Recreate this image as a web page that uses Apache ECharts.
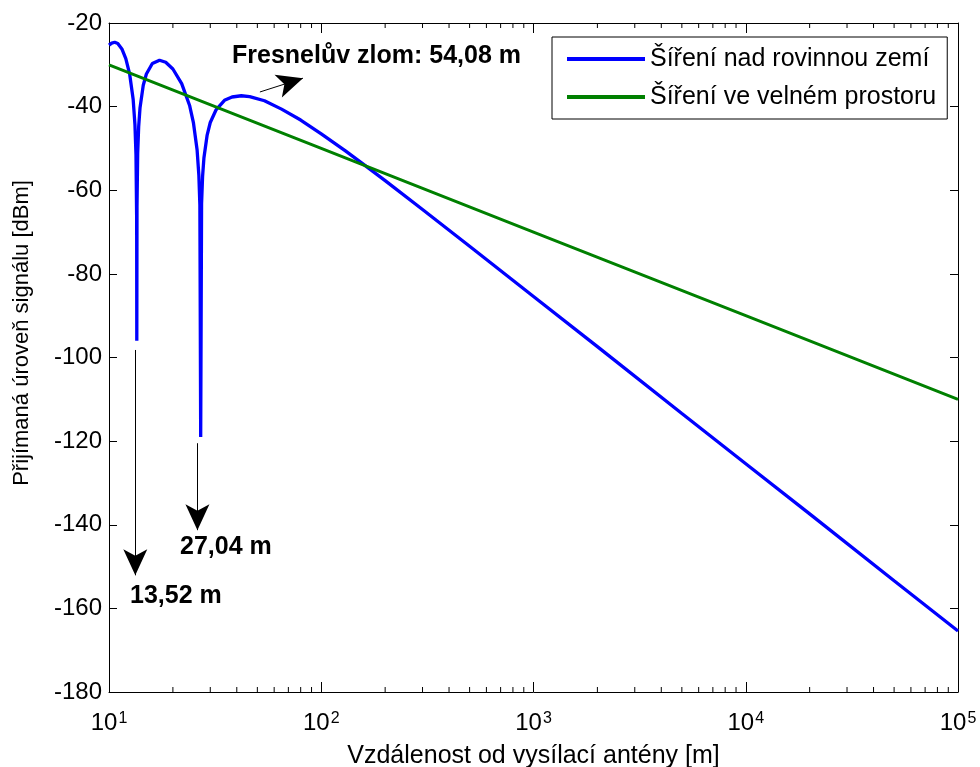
<!DOCTYPE html>
<html>
<head>
<meta charset="utf-8">
<script src="https://cdn.jsdelivr.net/npm/echarts@6/dist/echarts.min.js"></script>
<style>
  html, body { margin: 0; padding: 0; background: #fff; }
  #chart { width: 980px; height: 767px; }
</style>
</head>
<body>
<div id="chart"></div>
<script>
// vzdálenost [m] a úroveň signálu [dBm] - šíření nad rovinnou zemí
const groundDistance = [10, 10.3, 10.64, 11, 11.5, 12, 12.5, 13, 13.25, 13.4, 13.5, 13.52, 13.55, 13.65, 13.8, 14, 14.5, 15, 16, 17.3, 18.5, 20, 22, 24, 25, 26, 26.5, 26.8, 27.04, 27.3, 27.6, 28, 29, 30, 32, 35, 38, 42, 46, 54, 65, 80, 100, 130, 160, 200, 300, 500, 1000, 2000, 5000, 10000, 20000, 50000, 100000];
const groundLevel = [-25.3, -24.8, -24.6, -24.9, -26.2, -28.5, -32.1, -38.3, -44.3, -51.5, -67, -96, -64, -51.2, -44.7, -40.3, -34.9, -32.2, -29.7, -28.9, -29.4, -31.0, -34.5, -39.8, -43.9, -50.3, -56.3, -63.5, -119, -63.2, -56.7, -52.3, -46.8, -43.8, -40.7, -38.5, -37.7, -37.4, -37.6, -38.6, -40.6, -43.2, -46.5, -50.6, -54.0, -57.7, -64.6, -73.4, -85.4, -97.4, -113.4, -125.4, -137.4, -153.4, -165.4];

// šíření ve volném prostoru
const freeDistance = [10, 100, 1000, 10000, 100000];
const freeLevel = [-30, -50, -70, -90, -110];

const yTicks = [-180, -160, -140, -120, -100, -80, -60, -40, -20];
const minorTicks = [20, 30, 40, 50, 60, 70, 80, 90, 200, 300, 400, 500, 600, 700, 800, 900,
  2000, 3000, 4000, 5000, 6000, 7000, 8000, 9000, 20000, 30000, 40000, 50000, 60000, 70000, 80000, 90000];

const seriesNames = ['Šíření nad rovinnou zemí', 'Šíření ve velném prostoru'];

const FONT = 'Liberation Sans, Arial, Helvetica, sans-serif';

let chartDom = document.getElementById('chart');
let myChart = echarts.init(chartDom);

const groundData = groundDistance.map((d, i) => [d, groundLevel[i]]);
const freeData = freeDistance.map((d, i) => [d, freeLevel[i]]);

const arrowStyle = { color: '#000', width: 1, type: 'solid' };

const xCommon = {
  type: 'log',
  logBase: 10,
  min: 10,
  max: 100000,
  splitNumber: 4,
  axisLine: { show: true, onZero: false, lineStyle: { color: '#000', width: 1 } },
  axisTick: { show: true, inside: true, length: 10, lineStyle: { color: '#000', width: 1 } },
  splitLine: { show: false },
};
const yCommon = {
  type: 'value',
  min: yTicks[0],
  max: yTicks[yTicks.length - 1],
  interval: 20,
  axisLine: { show: true, onZero: false, lineStyle: { color: '#000', width: 1 } },
  axisTick: { show: true, inside: true, length: 8, lineStyle: { color: '#000', width: 1 } },
  splitLine: { show: false },
};

let option = {
  animation: false,
  backgroundColor: '#fff',
  textStyle: { fontFamily: FONT },
  grid: { left: 109, right: 22, top: 23, bottom: 75, containLabel: false, outerBoundsMode: 'none' },
  legend: {
    data: seriesNames,
    orient: 'vertical',
    left: 552,
    top: 37,
    padding: [8, 11, 8, 15],
    itemGap: 10,
    itemWidth: 78,
    itemHeight: 4,
    icon: 'rect',
    backgroundColor: '#fff',
    borderColor: '#000',
    borderWidth: 1,
    textStyle: { fontSize: 25, lineHeight: 28, color: '#000', fontFamily: FONT },
  },
  xAxis: [
    Object.assign({}, xCommon, {
      position: 'bottom',
      name: 'Vzdálenost od vysílací antény [m]',
      nameLocation: 'middle',
      nameGap: 52,
      nameTextStyle: { fontSize: 25, color: '#000', fontFamily: FONT },
      axisLabel: {
        margin: 19,
        color: '#000',
        formatter: (val) => '{b|10}{sup|' + Math.round(Math.log10(val)) + '}',
        rich: {
          b: { fontSize: 24, lineHeight: 24, verticalAlign: 'bottom', color: '#000', fontFamily: FONT },
          sup: { fontSize: 16, lineHeight: 16, padding: [0, 0, 12, 1], verticalAlign: 'top', color: '#000', fontFamily: FONT },
        },
      },
    }),
    Object.assign({}, xCommon, { position: 'top', axisLabel: { show: false } }),
  ],
  yAxis: [
    Object.assign({}, yCommon, {
      position: 'left',
      axisLabel: { fontSize: 24, margin: 7, color: '#000', fontFamily: FONT },
    }),
    Object.assign({}, yCommon, { position: 'right', axisLabel: { show: false } }),
  ],
  graphic: [
    {
      type: 'text', x: 22, y: 333, rotation: Math.PI / 2,
      style: { text: 'Přijímaná úroveň signálu [dBm]', font: '22px ' + FONT, fill: '#000', textAlign: 'center', textVerticalAlign: 'middle' },
    },
    {
      type: 'text', x: 232, y: 56,
      style: { text: 'Fresnelův zlom: 54,08 m', font: 'bold 25px ' + FONT, fill: '#000', textAlign: 'left', textVerticalAlign: 'middle' },
    },
    {
      type: 'text', x: 130, y: 596,
      style: { text: '13,52 m', font: 'bold 25px ' + FONT, fill: '#000', textAlign: 'left', textVerticalAlign: 'middle' },
    },
    {
      type: 'text', x: 180, y: 547,
      style: { text: '27,04 m', font: 'bold 25px ' + FONT, fill: '#000', textAlign: 'left', textVerticalAlign: 'middle' },
    },
  ],
  series: [
    {
      name: seriesNames[0],
      type: 'line',
      data: groundData,
      showSymbol: false,
      symbol: 'none',
      smooth: false,
      lineStyle: { color: '#0000ff', width: 3.3 },
      itemStyle: { color: '#0000ff' },
      markLine: {
        silent: true,
        symbol: ['none', 'arrow'],
        symbolSize: [18, 26],
        label: { show: false },
        lineStyle: arrowStyle,
        itemStyle: { color: '#000' },
        emphasis: { disabled: true },
        data: [
          [{ coord: [13.3, -98.2] }, { coord: [13.3, -152.1] }],
          [{ coord: [26.1, -120.5] }, { coord: [26.1, -141.3] }],
          [{ coord: [51.4, -36.5] }, { coord: [82.0, -33.2] }],
        ],
      },
    },
    {
      name: seriesNames[1],
      type: 'line',
      data: freeData,
      showSymbol: false,
      symbol: 'none',
      lineStyle: { color: '#008000', width: 3 },
      itemStyle: { color: '#008000' },
    },
    {
      // vedlejší dílky logaritmické osy (dole i nahoře)
      type: 'custom',
      silent: true,
      xAxisIndex: 0,
      yAxisIndex: 0,
      data: minorTicks.map((v) => [v, yTicks[0]]),
      renderItem: (params, api) => {
        const x = api.value(0);
        const bottom = api.coord([x, yTicks[0]]);
        const top = api.coord([x, yTicks[yTicks.length - 1]]);
        const st = { stroke: '#000', lineWidth: 1 };
        return {
          type: 'group',
          children: [
            { type: 'line', shape: { x1: bottom[0], y1: bottom[1], x2: bottom[0], y2: bottom[1] - 5 }, style: st },
            { type: 'line', shape: { x1: top[0], y1: top[1], x2: top[0], y2: top[1] + 5 }, style: st },
          ],
        };
      },
    },
  ],
};

option && myChart.setOption(option);
</script>
</body>
</html>
